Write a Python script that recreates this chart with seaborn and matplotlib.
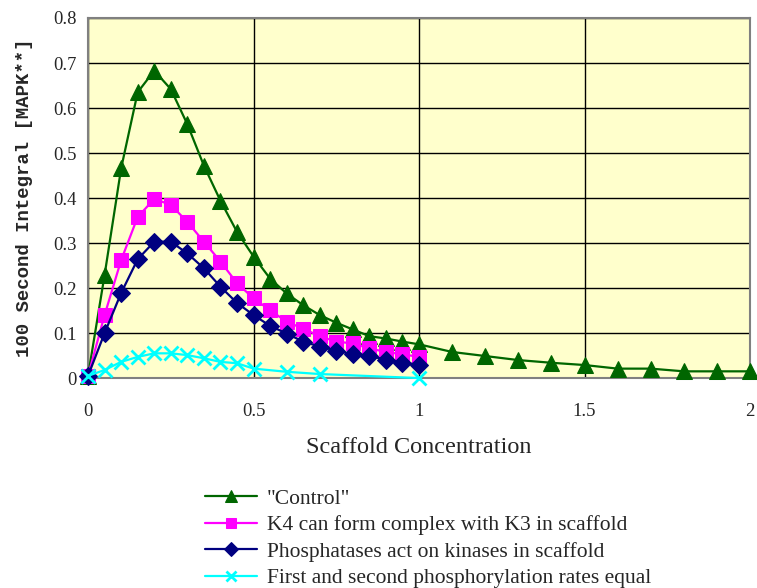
import matplotlib
matplotlib.use('Agg')
import matplotlib.pyplot as plt
import seaborn as sns
import pandas as pd

# values
x_short = [0, 0.05, 0.1, 0.15, 0.2, 0.25, 0.3, 0.35, 0.4, 0.45, 0.5,
           0.55, 0.6, 0.65, 0.7, 0.75, 0.8, 0.85, 0.9, 0.95, 1.0]
x_control = x_short + [1.1, 1.2, 1.3, 1.4, 1.5, 1.6, 1.7, 1.8, 1.9, 2.0]
control = [0.005, 0.229, 0.466, 0.635, 0.683, 0.642, 0.564, 0.472, 0.394, 0.325, 0.27,
           0.221, 0.188, 0.162, 0.14, 0.123, 0.108, 0.093, 0.088, 0.081, 0.075,
           0.058, 0.049, 0.04, 0.034, 0.029, 0.021, 0.021, 0.015, 0.015, 0.015]
k4_complex = [0.005, 0.14, 0.262, 0.358, 0.398, 0.385, 0.347, 0.303, 0.259, 0.211, 0.177,
              0.151, 0.125, 0.11, 0.093, 0.081, 0.077, 0.066, 0.058, 0.053, 0.047]
phosphatase = [0.005, 0.1, 0.189, 0.264, 0.303, 0.303, 0.277, 0.244, 0.203, 0.167, 0.14,
               0.116, 0.099, 0.081, 0.07, 0.061, 0.053, 0.049, 0.041, 0.034, 0.03]
x_equal = [0, 0.05, 0.1, 0.15, 0.2, 0.25, 0.3, 0.35, 0.4, 0.45, 0.5, 0.6, 0.7, 1.0]
equal_rates = [0.005, 0.018, 0.036, 0.047, 0.055, 0.055, 0.051, 0.044, 0.036, 0.033, 0.021,
               0.014, 0.009, 0.0]

labels = ['"Control"', 'K4 can form complex with K3 in scaffold',
          'Phosphatases act on kinases in scaffold',
          'First and second phosphorylation rates equal']

sns.set_style('white')
plt.rcParams['font.family'] = ['Liberation Serif', 'DejaVu Serif']

fig = plt.figure(figsize=(7.57, 5.88), dpi=100)
ax = fig.add_axes([0.1163, 0.357, 0.8745, 0.6124])
ax.set_facecolor('#FFFFCC')

series = [
    (x_control, control, labels[0], '#006600', '^', 11, {}),
    (x_short, k4_complex, labels[1], '#FF00FF', 's', 10, {}),
    (x_short, phosphatase, labels[2], '#000080', 'D', 9, {}),
    (x_equal, equal_rates, labels[3], '#00FFFF', 'x', 10, {'markeredgewidth': 2}),
]
for xs, ys, lab, col, mk, ms, extra in series:
    df = pd.DataFrame({'x': xs, 'y': ys})
    sns.lineplot(data=df, x='x', y='y', ax=ax, color=col, marker=mk, markersize=ms,
                 markeredgecolor=col, linewidth=1.6, label=lab, clip_on=False, zorder=3,
                 **extra)

ax.set_xlim(0, 2)
ax.set_ylim(0, 0.8)
ax.set_xticks([0, 0.5, 1, 1.5, 2])
ax.set_xticklabels(['0', '0.5', '1', '1.5', '2'])
ax.set_yticks([0, 0.1, 0.2, 0.3, 0.4, 0.5, 0.6, 0.7, 0.8])
ax.set_yticklabels(['0', '0.1', '0.2', '0.3', '0.4', '0.5', '0.6', '0.7', '0.8'])
ax.grid(True, color='black', linewidth=1)
ax.set_axisbelow(True)
ax.tick_params(axis='both', direction='out', length=5, width=1, color='#808080',
               labelsize=13.4, pad=3)
ax.tick_params(axis='x', pad=13)
for s in ax.spines.values():
    s.set_color('#808080')
    s.set_linewidth(1.5)

ax.set_xlabel('Scaffold Concentration', fontsize=17.5, labelpad=12)
ax.set_ylabel('100 Second Integral [MAPK**]', fontsize=13.7, fontweight='bold',
              family=['Liberation Mono', 'DejaVu Sans Mono'], labelpad=15)

ax.legend(loc='upper left', bbox_to_anchor=(0.163, -0.283), frameon=False,
          fontsize=15.5, handlelength=2.45, handletextpad=0.45, labelspacing=0.3,
          borderaxespad=0, markerscale=0.75)

fig.savefig('out.png', dpi=100)
